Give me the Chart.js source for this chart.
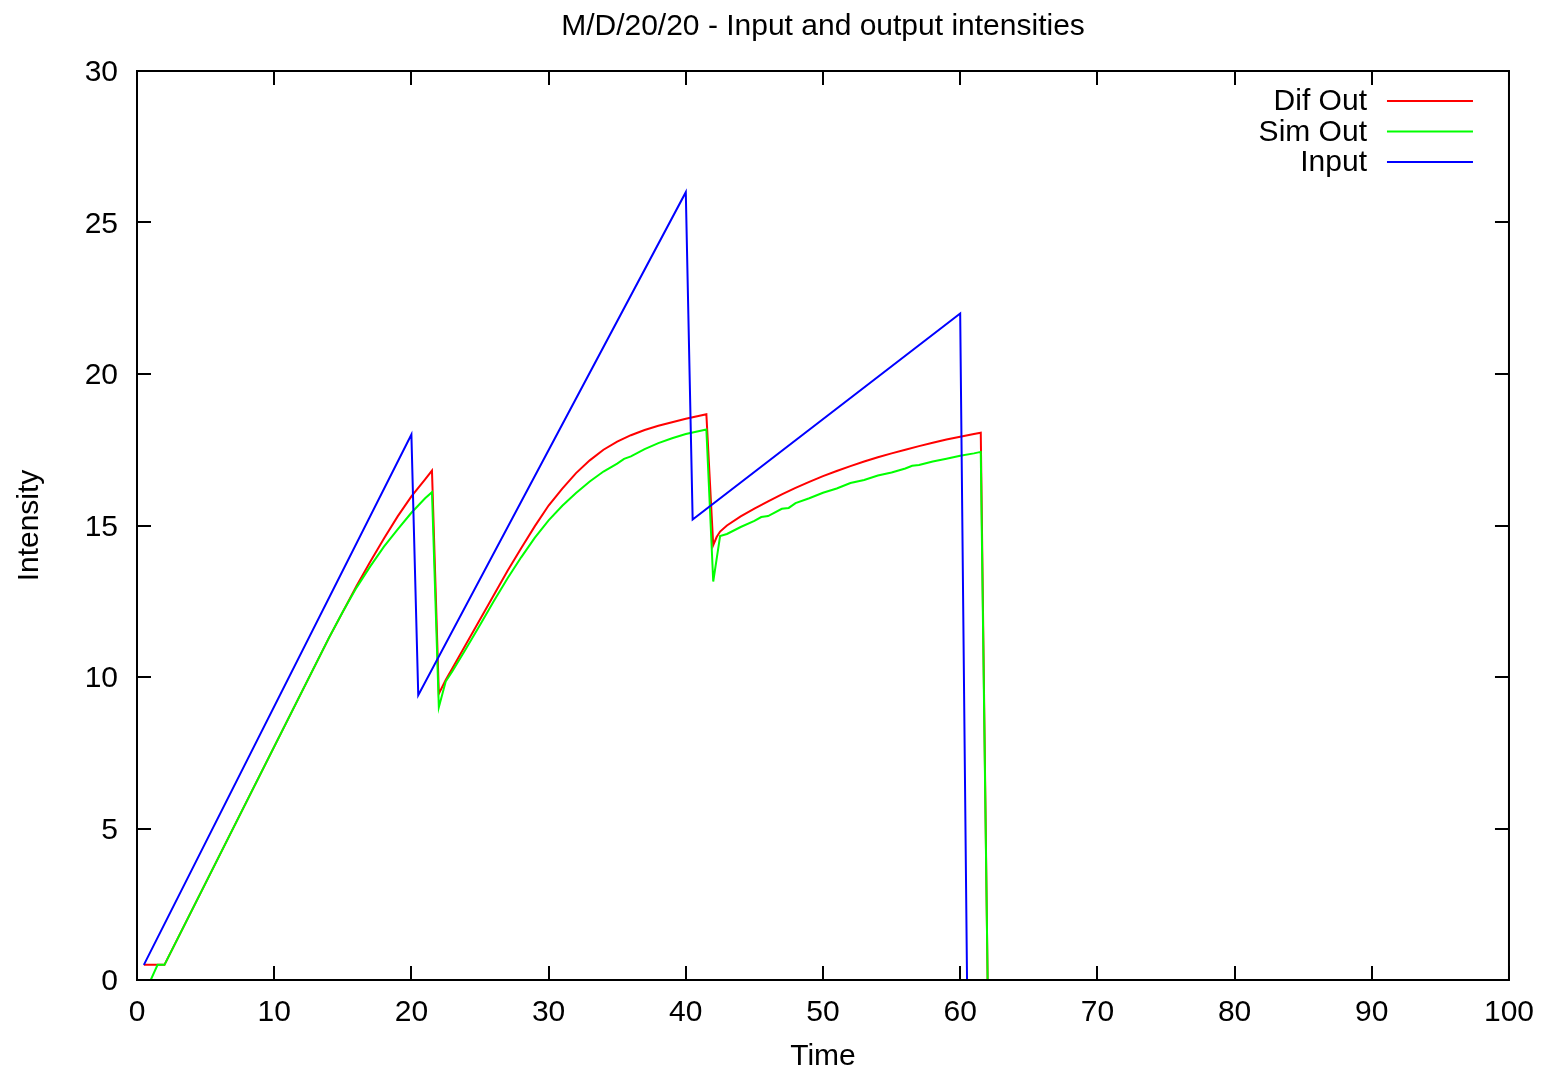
<!DOCTYPE html>
<html>
<head>
<meta charset="utf-8">
<title>M/D/20/20 - Input and output intensities</title>
<script src="https://cdn.jsdelivr.net/npm/chart.js@4"></script>
<style>
    html, body { margin: 0; padding: 0; background: #fff; }
    #wrap { width: 1549px; height: 1075px; }
</style>
</head>
<body>
<div id="wrap"><canvas id="intensityChart"></canvas></div>
<script>
// Dif Out (red)
const difTime = [0.5, 1, 1.5, 2, 14, 15, 16, 17, 18, 19, 20, 21, 21.5,
    22, 22.5, 23, 24, 25, 26, 27, 28, 29, 30, 31, 32, 33, 34, 35, 36, 37, 38, 39, 40, 41, 41.5,
    42, 42.25, 42.5, 43, 44, 45, 46, 47, 48, 49, 50, 51, 52, 53, 54, 55, 56, 57, 58, 59, 60, 61, 61.5, 62];
const difValues = [0.5, 0.5, 0.5, 0.5, 11.3, 12.15, 13.0, 13.8, 14.57, 15.3, 15.96, 16.52, 16.81,
    9.45, 9.9, 10.3, 11.1, 11.9, 12.7, 13.5, 14.25, 14.98, 15.66, 16.22, 16.73, 17.15, 17.5, 17.77, 17.98, 18.15, 18.29, 18.41, 18.52, 18.62, 18.67,
    14.35, 14.62, 14.8, 15.0, 15.3, 15.56, 15.8, 16.03, 16.24, 16.44, 16.63, 16.8, 16.96, 17.11, 17.25, 17.38, 17.5, 17.62, 17.73, 17.84, 17.93, 18.02, 18.06, 0];

// Sim Out (green)
const simTime = [1, 1.5, 2, 14, 15, 16, 17, 18, 19, 20, 21, 21.5,
    22, 22.5, 23, 24, 25, 26, 27, 28, 29, 30, 31, 32, 33, 34, 35, 35.5, 36, 37, 38, 39, 40, 41, 41.5,
    42, 42.5, 43, 44, 45, 45.5, 46, 47, 47.5, 48, 49, 50, 51, 52, 53, 54, 55, 56, 56.5, 57, 58, 59, 60, 61, 61.5, 62];
const simValues = [0, 0.5, 0.5, 11.3, 12.15, 12.95, 13.65, 14.3, 14.87, 15.42, 15.9, 16.1,
    9.0, 9.85, 10.2, 10.95, 11.72, 12.5, 13.25, 13.95, 14.6, 15.17, 15.65, 16.07, 16.45, 16.78, 17.04, 17.2, 17.28, 17.52, 17.72, 17.88, 18.02, 18.12, 18.17,
    13.15, 14.65, 14.72, 14.95, 15.15, 15.28, 15.31, 15.55, 15.58, 15.74, 15.9, 16.08, 16.22, 16.4, 16.5, 16.65, 16.75, 16.88, 16.97, 17.0, 17.11, 17.2, 17.3, 17.38, 17.43, 0];

// Input (blue)
const inputTime = [0.5, 20, 20.5, 40, 40.5, 60, 60.5];
const inputValues = [0.5, 18, 9.4, 26, 15.2, 22, 0];

const xTicks = { min: 0, max: 100, step: 10 };
const yTicks = { min: 0, max: 30, step: 5 };

function toPoints(xs, ys) {
    return xs.map((x, i) => ({ x: x, y: ys[i] }));
}

const FONT = "'Liberation Sans', Arial, Helvetica, sans-serif";
const FONT_SIZE = 30;

// gnuplot-style frame: border on all four sides with ticks pointing inward
const framePlugin = {
    id: 'frame',
    afterDatasetsDraw(chart) {
        const ctx = chart.ctx;
        const area = chart.chartArea;
        const xs = chart.scales.x;
        const ys = chart.scales.y;
        const len = 14;
        ctx.save();
        ctx.strokeStyle = '#000';
        ctx.lineWidth = 2;
        ctx.beginPath();
        xs.ticks.forEach(t => {
            const px = Math.round(xs.getPixelForValue(t.value));
            ctx.moveTo(px, area.bottom);
            ctx.lineTo(px, area.bottom - len);
            ctx.moveTo(px, area.top);
            ctx.lineTo(px, area.top + len);
        });
        ys.ticks.forEach(t => {
            const py = Math.round(ys.getPixelForValue(t.value));
            ctx.moveTo(area.left, py);
            ctx.lineTo(area.left + len, py);
            ctx.moveTo(area.right, py);
            ctx.lineTo(area.right - len, py);
        });
        ctx.stroke();
        ctx.strokeRect(area.left, area.top, area.right - area.left, area.bottom - area.top);
        ctx.restore();
    }
};

// key in the top right corner: label first, then a short line sample
const keyPlugin = {
    id: 'key',
    afterDatasetsDraw(chart) {
        const ctx = chart.ctx;
        const area = chart.chartArea;
        ctx.save();
        ctx.font = FONT_SIZE + 'px ' + FONT;
        ctx.textAlign = 'right';
        ctx.textBaseline = 'middle';
        chart.data.datasets.forEach((ds, i) => {
            const y = area.top + 30 + i * 30.5;
            ctx.fillStyle = '#000';
            ctx.fillText(ds.label, area.right - 142, y + 1);
            ctx.strokeStyle = ds.borderColor;
            ctx.lineWidth = 2;
            ctx.beginPath();
            ctx.moveTo(area.right - 122, y);
            ctx.lineTo(area.right - 36, y);
            ctx.stroke();
        });
        ctx.restore();
    }
};

const ctx = document.getElementById('intensityChart').getContext('2d');
const myChart = new Chart(ctx, {
    type: 'line',
    data: {
        datasets: [
            {
                label: 'Dif Out',
                data: toPoints(difTime, difValues),
                borderColor: '#ff0000',
                borderWidth: 2,
                order: 3
            },
            {
                label: 'Sim Out',
                data: toPoints(simTime, simValues),
                borderColor: '#00ff00',
                borderWidth: 2,
                order: 2
            },
            {
                label: 'Input',
                data: toPoints(inputTime, inputValues),
                borderColor: '#0000ff',
                borderWidth: 2,
                order: 1
            }
        ]
    },
    options: {
        responsive: true,
        maintainAspectRatio: false,
        animation: false,
        events: [],
        elements: {
            point: { radius: 0 },
            line: { tension: 0, fill: false }
        },
        layout: { padding: { left: 0, right: 40, top: 0, bottom: 0 } },
        plugins: {
            legend: { display: false },
            tooltip: { enabled: false },
            title: {
                display: true,
                text: 'M/D/20/20 - Input and output intensities',
                color: '#000',
                fullSize: false,
                font: { family: FONT, size: FONT_SIZE, weight: 'normal' },
                padding: { top: 9, bottom: 26 }
            }
        },
        scales: {
            x: {
                type: 'linear',
                min: xTicks.min,
                max: xTicks.max,
                grid: { display: false, drawTicks: false },
                border: { display: false },
                ticks: {
                    stepSize: xTicks.step,
                    color: '#000',
                    maxRotation: 0,
                    padding: 15,
                    font: { family: FONT, size: FONT_SIZE }
                },
                title: {
                    display: true,
                    text: 'Time',
                    color: '#000',
                    font: { family: FONT, size: FONT_SIZE },
                    padding: { top: 0, bottom: 0 }
                },
                afterFit(scale) { scale.height = 95; }
            },
            y: {
                min: yTicks.min,
                max: yTicks.max,
                grid: { display: false, drawTicks: false },
                border: { display: false },
                ticks: {
                    stepSize: yTicks.step,
                    color: '#000',
                    padding: 19,
                    labelOffset: 2,
                    font: { family: FONT, size: FONT_SIZE }
                },
                title: {
                    display: true,
                    text: 'Intensity',
                    color: '#000',
                    font: { family: FONT, size: FONT_SIZE },
                    padding: { top: 12, bottom: 0 }
                },
                afterFit(scale) { scale.width = 137; }
            }
        }
    },
    plugins: [framePlugin, keyPlugin]
});
</script>
</body>
</html>
